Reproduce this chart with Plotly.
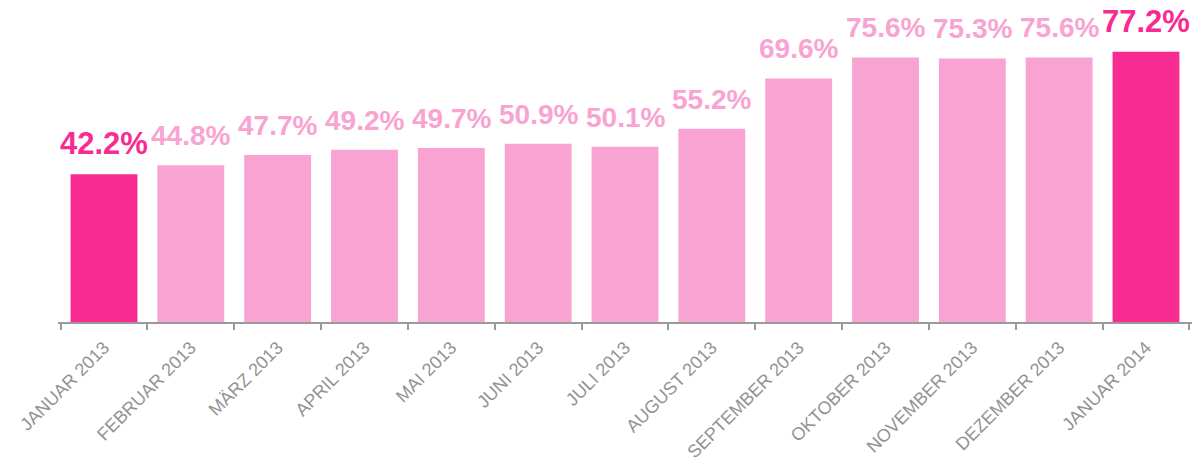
import plotly.graph_objects as go

categories = ["JANUAR 2013", "FEBRUAR 2013", "MÄRZ 2013", "APRIL 2013", "MAI 2013",
              "JUNI 2013", "JULI 2013", "AUGUST 2013", "SEPTEMBER 2013", "OKTOBER 2013",
              "NOVEMBER 2013", "DEZEMBER 2013", "JANUAR 2014"]
values = [42.2, 44.8, 47.7, 49.2, 49.7, 50.9, 50.1, 55.2, 69.6, 75.6, 75.3, 75.6, 77.2]
highlight = [True] + [False] * 11 + [True]

DARK = "#F72B92"
LIGHT = "#F9A3D2"
colors = [DARK if h else LIGHT for h in highlight]

fig = go.Figure()
fig.add_trace(go.Bar(x=categories, y=values, marker=dict(color=colors, line=dict(width=0)),
                     hoverinfo="skip"))

for c, v, h in zip(categories, values, highlight):
    fig.add_annotation(x=c, y=v, text=f"{v:.1f}%", showarrow=False, yanchor="bottom",
                       yshift=11 if h else 12,
                       font=dict(family="Liberation Sans", size=31 if h else 28,
                                 color=DARK if h else LIGHT, weight="bold"))

fig.update_layout(
    width=1201, height=469,
    margin=dict(l=58, r=9, t=7, b=147, autoexpand=False),
    plot_bgcolor="white", paper_bgcolor="white",
    bargap=0.23, showlegend=False,
)
fig.update_xaxes(showline=True, linecolor="#9a9a9a", linewidth=2, automargin=False,
                 ticks="outside", tickson="boundaries", ticklen=6, tickcolor="#9a9a9a", tickwidth=2,
                 tickangle=-45, ticklabelstandoff=6,
                 tickfont=dict(family="Liberation Sans", size=18, color="#939393"),
                 showgrid=False)
fig.update_yaxes(range=[0, 315 / 3.5], visible=False, showgrid=False, automargin=False)

fig.write_html("out.html", config={"displayModeBar": False},
               post_script="document.body.style.margin='0px';")
